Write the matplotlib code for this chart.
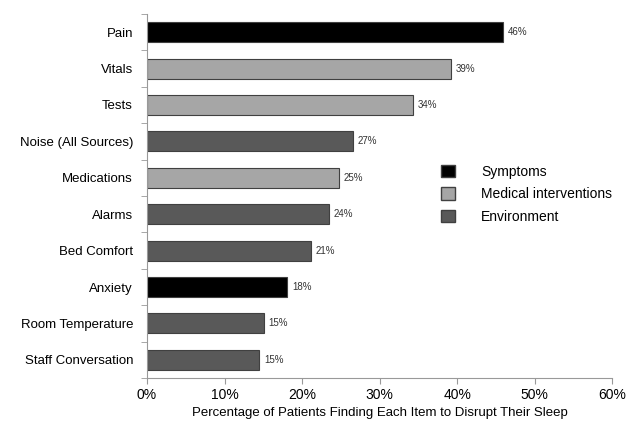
import matplotlib
matplotlib.use("Agg")
import matplotlib.pyplot as plt
from matplotlib.patches import Patch

plt.rcParams['font.family'] = ['Liberation Sans', 'DejaVu Sans']

categories = ["Pain", "Vitals", "Tests", "Noise (All Sources)", "Medications",
              "Alarms", "Bed Comfort", "Anxiety", "Room Temperature", "Staff Conversation"]
values = [45.9, 39.2, 34.3, 26.6, 24.8, 23.5, 21.2, 18.1, 15.1, 14.5]
labels = ["46%", "39%", "34%", "27%", "25%", "24%", "21%", "18%", "15%", "15%"]
groups = ["Symptoms", "Medical interventions", "Medical interventions", "Environment",
          "Medical interventions", "Environment", "Environment", "Symptoms",
          "Environment", "Environment"]
group_names = ["Symptoms", "Medical interventions", "Environment"]
group_colors = {"Symptoms": "#000000", "Medical interventions": "#a6a6a6", "Environment": "#595959"}

fig = plt.figure(figsize=(6.28, 4.21), dpi=100)
ax = fig.add_axes([0.234, 0.102, 0.741, 0.865])

ypos = list(range(len(categories)))[::-1]
colors = [group_colors[g] for g in groups]
ax.barh(ypos, values, height=0.55, color=colors, edgecolor="#404040", linewidth=0.8)
for y, v, l in zip(ypos, values, labels):
    ax.text(v + 0.6, y, l, va="center", ha="left", fontsize=7, color="#333333")

ax.set_ylim(-0.5, len(categories) - 0.5)
ax.set_xlim(0, 60)
ax.set_yticks(ypos)
ax.set_yticklabels(categories, fontsize=9.5)
ax.set_yticks([i + 0.5 for i in range(-1, len(categories))], minor=True)
ax.tick_params(axis="y", which="major", length=0, pad=10)
ax.tick_params(axis="y", which="minor", length=4, color="#999999")
ax.set_xticks(range(0, 61, 10))
ax.set_xticklabels([f"{t}%" for t in range(0, 61, 10)], fontsize=10)
ax.tick_params(axis="x", length=4, color="#999999")
ax.set_xlabel("Percentage of Patients Finding Each Item to Disrupt Their Sleep", fontsize=9.5, labelpad=3)

for s in ["top", "right"]:
    ax.spines[s].set_visible(False)
for s in ["left", "bottom"]:
    ax.spines[s].set_color("#999999")

handles = [Patch(facecolor=group_colors[g], edgecolor="#404040", label=g) for g in group_names]
ax.legend(handles=handles, loc="upper left", bbox_to_anchor=(0.605, 0.62), frameon=False,
          fontsize=10, handlelength=1.0, handleheight=1.0, handletextpad=1.9, labelspacing=0.62)

fig.savefig("out.png", dpi=100)
